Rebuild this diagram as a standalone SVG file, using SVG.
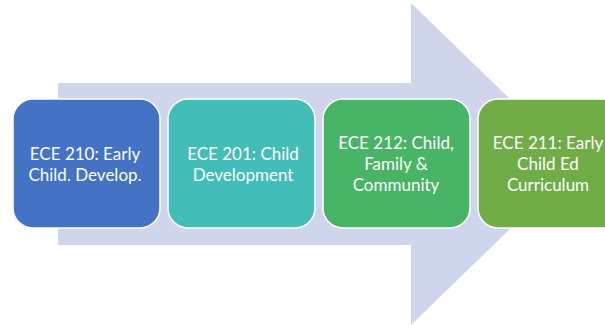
<svg xmlns="http://www.w3.org/2000/svg" width="605" height="325" viewBox="0 0 605 325">
<style>
.box{stroke:#ffffff;stroke-width:1.5}
.t{font-family:Lato,"Open Sans","Liberation Sans",sans-serif;font-size:17px;fill:#ffffff;text-anchor:middle}
</style>
<rect width="605" height="325" fill="#ffffff"/>
<g id="connectors">
<polygon id="arrow" points="58,83 411,83 411,3 577,164 411,325 411,245 58,245" fill="#CFD5EA"/>
</g>
<g id="node1">
<rect class="box" x="13" y="99" width="147" height="129" rx="20" fill="#4472C4"/>
<text class="t" x="85" y="160">ECE 210: Early</text>
<text class="t" x="85" y="181">Child. Develop.</text>
</g>
<g id="node2">
<rect class="box" x="168" y="99" width="147" height="129" rx="20" fill="#43BDB8"/>
<text class="t" x="243" y="160">ECE 201: Child</text>
<text class="t" x="243" y="181">Development</text>
</g>
<g id="node3">
<rect class="box" x="323" y="99" width="147" height="129" rx="20" fill="#48B466"/>
<text class="t" x="396" y="149">ECE 212: Child,</text>
<text class="t" x="396" y="170">Family &amp;</text>
<text class="t" x="396" y="191">Community</text>
</g>
<g id="node4">
<rect class="box" x="478" y="99" width="145" height="129" rx="20" fill="#70AD47"/>
<text class="t" x="548" y="149">ECE 211: Early</text>
<text class="t" x="548" y="170">Child Ed</text>
<text class="t" x="548" y="191">Curriculum</text>
</g>
</svg>
